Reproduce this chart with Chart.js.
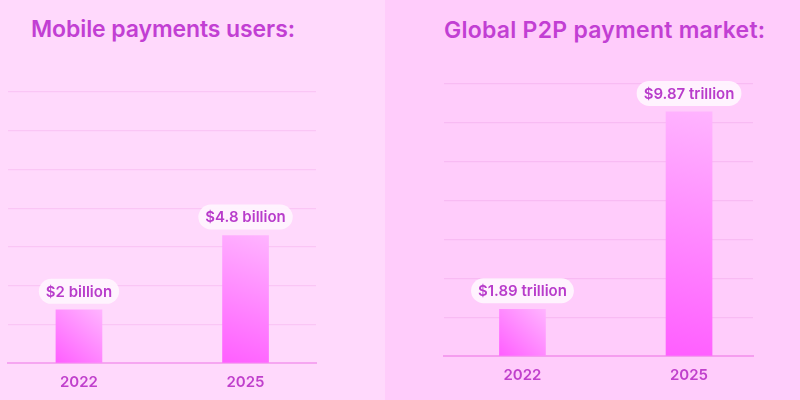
<!DOCTYPE html>
<html>
<head>
<meta charset="utf-8">
<script src="https://cdn.jsdelivr.net/npm/chart.js@4.4.1/dist/chart.umd.min.js"></script>
<style>
  html, body { margin: 0; padding: 0; }
  body { width: 800px; height: 400px; position: relative; overflow: hidden; font-family: Inter, "Noto Sans", sans-serif; }
  .panel { position: absolute; top: 0; height: 400px; }
  #leftPanel { left: 0; width: 385px; background: #FFD9FC; }
  #rightPanel { left: 385px; width: 415px; background: #FFCCFB; }
  .title { position: absolute; font-weight: 600; font-size: 23px; color: #C23FD3; white-space: nowrap; }
  #leftTitle { left: 31px; top: 15px; letter-spacing: -0.1px; }
  #rightTitle { left: 59px; top: 16px; letter-spacing: 0.25px; }
  canvas { position: absolute; left: 0; top: 0; }
</style>
</head>
<body>
<div class="panel" id="leftPanel">
  <div class="title" id="leftTitle"></div>
  <canvas id="leftChart" width="385" height="400"></canvas>
</div>
<div class="panel" id="rightPanel">
  <div class="title" id="rightTitle"></div>
  <canvas id="rightChart" width="415" height="400"></canvas>
</div>
<script>
// ---- data ----
const titles = ['Mobile payments users:', 'Global P2P payment market:'];
const leftCategories = ['2022', '2025'];
const leftValues = [2, 4.8];
const leftLabels = ['$2 billion', '$4.8 billion'];
const rightCategories = ['2022', '2025'];
const rightValues = [1.89, 9.87];
const rightLabels = ['$1.89 trillion', '$9.87 trillion'];

document.getElementById('leftTitle').textContent = titles[0];
document.getElementById('rightTitle').textContent = titles[1];

const FONT = 'Inter, "Noto Sans", sans-serif';

function barGradient(ctx) {
  const chart = ctx.chart;
  const ca = chart.chartArea;
  if (!ca || ctx.type !== 'data') return '#FF77FF';
  const y = chart.scales.y, x = chart.scales.x;
  const top = y.getPixelForValue(ctx.raw.y);
  const bottom = y.getPixelForValue(0);
  const cx = x.getPixelForValue(ctx.raw.x);
  const g = chart.ctx.createLinearGradient(cx - 23, bottom, cx + 23, top);
  g.addColorStop(0, '#FF5EFF');
  g.addColorStop(1, '#FFB4FF');
  return g;
}

const pillLabels = {
  id: 'pillLabels',
  afterDatasetsDraw(chart, args, opts) {
    const c = chart.ctx;
    const meta = chart.getDatasetMeta(0);
    c.save();
    c.font = '600 15px ' + FONT;
    c.textAlign = 'center';
    c.textBaseline = 'middle';
    meta.data.forEach((bar, i) => {
      const text = opts.labels[i];
      const w = c.measureText(text).width + 14;
      const h = 25;
      const bx = bar.x - w / 2;
      const by = bar.y - 6 - h;
      c.fillStyle = 'rgba(255,244,254,0.95)';
      c.beginPath();
      c.roundRect(bx, by, w, h, 12.5);
      c.fill();
      c.fillStyle = '#B83CCB';
      c.fillText(text, bar.x, by + h / 2 + 1);
    });
    c.restore();
  }
};

function makeChart(id, cats, vals, labels, yMax, xMin, xMax, pad, gridColor, baseColor) {
  return new Chart(document.getElementById(id), {
    type: 'bar',
    data: {
      datasets: [{
        data: vals.map((v, i) => ({ x: i, y: v })),
        backgroundColor: barGradient,
        borderWidth: 0,
        barThickness: 46
      }]
    },
    options: {
      responsive: false,
      animation: false,
      layout: { padding: pad },
      plugins: {
        legend: { display: false },
        tooltip: { enabled: false },
        pillLabels: { labels: labels }
      },
      scales: {
        x: {
          type: 'linear',
          offset: false,
          min: xMin,
          max: xMax,
          afterBuildTicks: (s) => { s.ticks = cats.map((c, i) => ({ value: i })); },
          ticks: {
            callback: (v) => cats[v],
            color: '#C040CC',
            font: { family: FONT, size: 15, weight: '600' },
            padding: 10,
            maxRotation: 0,
            autoSkip: false
          },
          grid: { display: false, drawTicks: false },
          border: { display: true, color: baseColor, width: 2 }
        },
        y: {
          min: 0,
          max: yMax,
          afterBuildTicks: (s) => { s.ticks = Array.from({ length: 8 }, (_, i) => ({ value: yMax * i / 7 })); },
          ticks: { display: false },
          grid: { color: gridColor, lineWidth: 1.2, drawTicks: false },
          border: { display: false }
        }
      }
    },
    plugins: [pillLabels]
  });
}

makeChart('leftChart', leftCategories, leftValues, leftLabels, 10.2, -0.426, 1.423,
  { left: 8, right: 69, top: 92, bottom: -1 }, '#FAC6F5', '#F6A6F1');
makeChart('rightChart', rightCategories, rightValues, rightLabels, 11, -0.471, 1.384,
  { left: 59, right: 47, top: 84, bottom: 6 }, '#F8BBF3', '#F59DEF');
</script>
</body>
</html>
